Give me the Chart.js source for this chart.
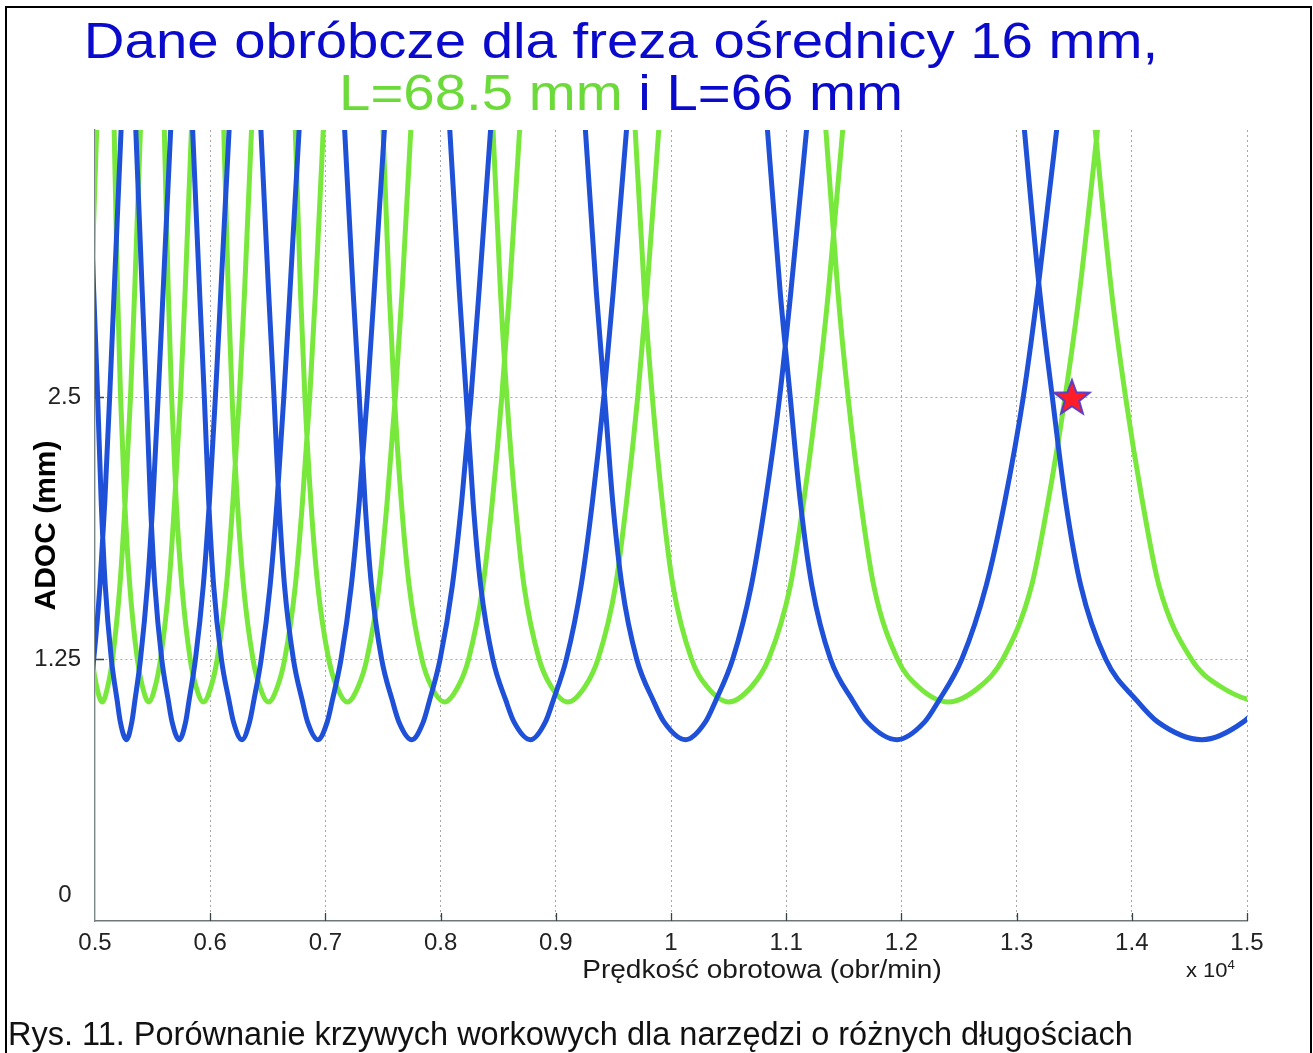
<!DOCTYPE html>
<html>
<head>
<meta charset="utf-8">
<script src="https://cdn.jsdelivr.net/npm/chart.js@4/dist/chart.umd.min.js"></script>
<style>
  html, body { margin: 0; padding: 0; background: #fff; }
  #wrap { position: relative; width: 1313px; height: 1053px; overflow: hidden; background: #fff;
          font-family: "Liberation Sans", Arial, sans-serif; }
  #c { position: absolute; left: 0; top: 0; }
  #frame { position: absolute; left: 5px; top: 6px; width: 1303px; height: 1100px;
           border-left: 2px solid #000; border-top: 2px solid #000; border-right: 2px solid #000; }
  #title { position: absolute; left: 621px; top: 14.7px; transform: translateX(-50%) scaleX(1.127);
           font-size: 50px; line-height: 52px; color: #0a0acc; text-align: center; white-space: nowrap; }
  #title .g { color: #6cdb3a; }
  #xt { position: absolute; left: 762px; top: 954px; transform: translateX(-50%) scaleX(1.12);
        font-size: 25px; line-height: 30px; color: #1a1a1a; white-space: nowrap; }
  #xp { position: absolute; left: 1186px; top: 958px; transform-origin: left center; transform: scaleX(1.1);
        font-size: 20px; line-height: 24px; color: #1a1a1a; white-space: nowrap; }
  #xp span { position: relative; top: -8px; font-size: 12px; }
  #cap { position: absolute; left: 8px; top: 1016px; font-size: 32.5px; line-height: 36px; color: #111; white-space: nowrap; }
</style>
</head>
<body>
<div id="wrap">
  <canvas id="c" width="1313" height="1053"></canvas>
  <div id="frame"></div>
  <div id="title"><div>Dane obróbcze dla freza ośrednicy 16 mm,</div><div><span class="g">L=68.5 mm</span> i L=66 mm</div></div>
  <div id="xt">Prędkość obrotowa (obr/min)</div>
  <div id="xp">x 10<span>4</span></div>
  <div id="cap">Rys. 11. Porównanie krzywych workowych dla narzędzi o różnych długościach</div>
</div>
<script>
// ---------- tick values / labels ----------
const xTickValues = [0.5, 0.6, 0.7, 0.8, 0.9, 1.0, 1.1, 1.2, 1.3, 1.4, 1.5];
const xTickLabels = ['0.5', '0.6', '0.7', '0.8', '0.9', '1', '1.1', '1.2', '1.3', '1.4', '1.5'];
const yTickValues = [0, 1.25, 2.5];
const yTickLabels = ['0', '1.25', '2.5'];

// ---------- L = 66 mm (blue) : ADOC level of each lobe point ----------
const blueAdoc = [4.0, 3.0, 2.5, 2.0, 1.6, 1.25, 1.05, 0.95, 0.865, 0.95, 1.05, 1.25, 1.6, 2.0, 2.5, 3.0, 4.0];
// spindle speed (x 10^4 obr/min) of each lobe at those levels
const blueLobe1  = [null, null, null, null, null, null, 0.4814, 0.4838, 0.4883, 0.4924, 0.4946, 0.4989, 0.5043, 0.5085, 0.5127, 0.5166, 0.5244];
const blueLobe2  = [0.4923, 0.4989, 0.5023, 0.5054, 0.5089, 0.5142, 0.5193, 0.5220, 0.5273, 0.5320, 0.5346, 0.5395, 0.5455, 0.5502, 0.5548, 0.5591, 0.5676];
const blueLobe3  = [0.5338, 0.5410, 0.5447, 0.5481, 0.5520, 0.5579, 0.5637, 0.5669, 0.5731, 0.5787, 0.5816, 0.5872, 0.5940, 0.5993, 0.6045, 0.6092, 0.6185];
const blueLobe4  = [0.5830, 0.5908, 0.5949, 0.5987, 0.6030, 0.6097, 0.6164, 0.6202, 0.6276, 0.6342, 0.6378, 0.6443, 0.6520, 0.6580, 0.6639, 0.6692, 0.6795];
const blueLobe5  = [0.6421, 0.6507, 0.6554, 0.6597, 0.6645, 0.6722, 0.6800, 0.6845, 0.6935, 0.7016, 0.7059, 0.7136, 0.7225, 0.7294, 0.7363, 0.7423, 0.7538];
const blueLobe6  = [0.7146, 0.7241, 0.7294, 0.7344, 0.7400, 0.7488, 0.7582, 0.7638, 0.7749, 0.7850, 0.7903, 0.7996, 0.8102, 0.8183, 0.8264, 0.8333, 0.8463];
const blueLobe7  = [0.8056, 0.8163, 0.8223, 0.8282, 0.8348, 0.8453, 0.8568, 0.8637, 0.8780, 0.8910, 0.8976, 0.9092, 0.9220, 0.9318, 0.9417, 0.9498, 0.9647];
const blueLobe8  = [0.9230, 0.9352, 0.9424, 0.9494, 0.9574, 0.9702, 0.9848, 0.9939, 1.0127, 1.0299, 1.0387, 1.0536, 1.0697, 1.0819, 1.0943, 1.1040, 1.1216];
const blueLobe9  = [1.0806, 1.0948, 1.1035, 1.1123, 1.1223, 1.1384, 1.1579, 1.1702, 1.1962, 1.2202, 1.2323, 1.2525, 1.2736, 1.2897, 1.3058, 1.3182, 1.3395];
const blueLobe10 = [1.3030, 1.3201, 1.3310, 1.3426, 1.3557, 1.3773, 1.4046, 1.4224, 1.4609, 1.4968, 1.5148, 1.5440, 1.5736, null, null, null, null];

// ---------- L = 68.5 mm (green) ----------
const greenAdoc = [4.0, 3.0, 2.5, 2.0, 1.6, 1.25, 1.12, 1.045, 1.12, 1.25, 1.6, 2.0, 2.5, 3.0, 4.0];
const greenLobe0  = [null, null, null, null, null, null, null, null, null, null, null, 0.4893, 0.4935, 0.4968, 0.5028];
const greenLobe1  = [null, null, null, null, 0.4917, 0.4975, 0.5014, 0.5062, 0.5111, 0.5152, 0.5216, 0.5262, 0.5308, 0.5344, 0.5409];
const greenLobe2  = [0.5158, 0.5196, 0.5222, 0.5258, 0.5302, 0.5367, 0.5411, 0.5466, 0.5523, 0.5569, 0.5641, 0.5691, 0.5742, 0.5782, 0.5853];
const greenLobe3  = [0.5592, 0.5636, 0.5665, 0.5705, 0.5754, 0.5826, 0.5876, 0.5941, 0.6008, 0.6061, 0.6141, 0.6197, 0.6253, 0.6298, 0.6376];
const greenLobe4  = [0.6107, 0.6157, 0.6190, 0.6236, 0.6289, 0.6371, 0.6429, 0.6506, 0.6585, 0.6647, 0.6739, 0.6801, 0.6864, 0.6914, 0.7001];
const greenLobe5  = [0.6726, 0.6784, 0.6822, 0.6874, 0.6934, 0.7028, 0.7097, 0.7190, 0.7286, 0.7360, 0.7466, 0.7536, 0.7607, 0.7665, 0.7763];
const greenLobe6  = [0.7485, 0.7554, 0.7599, 0.7659, 0.7727, 0.7837, 0.7919, 0.8035, 0.8153, 0.8243, 0.8368, 0.8449, 0.8531, 0.8598, 0.8711];
const greenLobe7  = [0.8437, 0.8520, 0.8575, 0.8646, 0.8724, 0.8855, 0.8958, 0.9104, 0.9255, 0.9367, 0.9519, 0.9614, 0.9711, 0.9790, 0.9923];
const greenLobe8  = [0.9667, 0.9769, 0.9838, 0.9924, 1.0017, 1.0178, 1.0310, 1.0502, 1.0702, 1.0847, 1.1036, 1.1151, 1.1268, 1.1366, 1.1526];
const greenLobe9  = [1.1315, 1.1449, 1.1537, 1.1647, 1.1760, 1.1966, 1.2142, 1.2407, 1.2684, 1.2881, 1.3130, 1.3273, 1.3421, 1.3546, 1.3746];
const greenLobe10 = [1.3642, 1.3825, 1.3946, 1.4093, 1.4236, 1.4516, 1.4766, 1.5156, 1.5567, null, null, null, null, null, null];

// ---------- marked working point ----------
const starSpeed = [1.348];
const starAdoc = [2.5];

// ---------- build library data ----------
function buildLobes(lobes, levels) {
  const pts = [];
  lobes.forEach(speeds => {
    let last = null;
    speeds.forEach((s, i) => { if (s !== null) { pts.push({ x: s, y: levels[i] }); last = s; } });
    pts.push({ x: last, y: null });
  });
  return pts;
}
const blueData = buildLobes([blueLobe1, blueLobe2, blueLobe3, blueLobe4, blueLobe5, blueLobe6, blueLobe7, blueLobe8, blueLobe9, blueLobe10], blueAdoc);
const greenData = buildLobes([greenLobe0, greenLobe1, greenLobe2, greenLobe3, greenLobe4, greenLobe5, greenLobe6, greenLobe7, greenLobe8, greenLobe9, greenLobe10], greenAdoc);
const starData = starSpeed.map((s, i) => ({ x: s, y: starAdoc[i] }));

// filled five-pointed star marker
function makeStar() {
  const cv = document.createElement('canvas');
  cv.width = 42; cv.height = 42;
  const c = cv.getContext('2d');
  const R = 18.5, r = 7.6, cx = 21, cy = 22.5;
  c.beginPath();
  for (let i = 0; i < 10; i++) {
    const ang = -Math.PI / 2 + i * Math.PI / 5;
    const rad = i % 2 === 0 ? R : r;
    const px = cx + rad * Math.cos(ang), py = cy + rad * Math.sin(ang);
    if (i === 0) c.moveTo(px, py); else c.lineTo(px, py);
  }
  c.closePath();
  c.fillStyle = '#ff1e28';
  c.fill();
  c.lineWidth = 2;
  c.strokeStyle = '#5a3cc8';
  c.stroke();
  return cv;
}

const FONT = '"Liberation Sans", Arial, sans-serif';

const axisExtras = {
  id: 'axisExtras',
  beforeDatasetsDraw(chart) {
    const { ctx, chartArea: a, scales: { x, y } } = chart;
    ctx.save();
    ctx.strokeStyle = '#3a4444';
    ctx.lineWidth = 1.3;
    ctx.beginPath();
    x.ticks.forEach(t => {
      if (t.value > x.min) { const px = Math.round(x.getPixelForValue(t.value)) + 0.5; ctx.moveTo(px, a.bottom); ctx.lineTo(px, a.bottom - 8); }
    });
    y.ticks.forEach(t => {
      if (t.value > y.min) { const py = Math.round(y.getPixelForValue(t.value)) + 0.5; ctx.moveTo(a.left, py); ctx.lineTo(a.left + 9, py); }
    });
    ctx.stroke();
    ctx.restore();
  },
  afterDraw(chart) {
    const { ctx, scales: { y } } = chart;
    ctx.save();
    ctx.font = '24px ' + FONT;
    ctx.fillStyle = '#222';
    ctx.textAlign = 'center';
    ctx.textBaseline = 'middle';
    ctx.fillText(yTickLabels[0], 65, y.getPixelForValue(yTickValues[0]) - 26);
    ctx.restore();
  }
};

const gridColor = (ctx) => (ctx.tick && (ctx.tick.value === 0 || ctx.tick.value === 0.5)) ? 'rgba(0,0,0,0)' : '#a8a8a8';

new Chart(document.getElementById('c'), {
  type: 'line',
  data: {
    datasets: [
      { label: 'punkt', data: starData, showLine: false, pointStyle: makeStar(), pointRadius: 18, borderWidth: 0 },
      { label: 'L=66 mm', data: blueData, borderColor: '#1e50d8', borderWidth: 5, pointRadius: 0,
        cubicInterpolationMode: 'monotone', spanGaps: false, fill: false, borderJoinStyle: 'round', borderCapStyle: 'round' },
      { label: 'L=68.5 mm', data: greenData, borderColor: '#78e83c', borderWidth: 5, pointRadius: 0,
        cubicInterpolationMode: 'monotone', spanGaps: false, fill: false, borderJoinStyle: 'round', borderCapStyle: 'round' }
    ]
  },
  options: {
    responsive: false,
    animation: false,
    layout: { padding: { left: 0, right: 66, top: 130, bottom: 0 } },
    plugins: { legend: { display: false }, tooltip: { enabled: false }, title: { display: false } },
    scales: {
      x: {
        type: 'linear', min: 0.5, max: 1.5,
        afterFit: s => { s.height = 132; },
        afterBuildTicks: s => { s.ticks = xTickValues.map(v => ({ value: v })); },
        ticks: {
          callback: (v) => xTickLabels[xTickValues.findIndex(t => Math.abs(t - v) < 1e-9)],
          font: { family: FONT, size: 24 }, color: '#222', padding: 8, maxRotation: 0, autoSkip: false
        },
        grid: { color: gridColor, lineWidth: 1, drawTicks: false },
        border: { display: true, color: '#6e7878', width: 1.6, dash: [2, 3] }
      },
      y: {
        type: 'linear', min: 0, max: 3.774,
        afterFit: s => { s.width = 95; },
        afterBuildTicks: s => { s.ticks = yTickValues.map(v => ({ value: v })); },
        ticks: {
          callback: (v) => { const i = yTickValues.findIndex(t => Math.abs(t - v) < 1e-9); return i === 0 ? '' : yTickLabels[i]; },
          font: { family: FONT, size: 24 }, color: '#222', padding: 14, autoSkip: false
        },
        grid: { color: gridColor, lineWidth: 1, drawTicks: false },
        border: { display: true, color: '#7a8686', width: 1.4, dash: [2, 3] },
        title: { display: true, text: 'ADOC (mm)', color: '#000',
                 font: { family: FONT, size: 30, weight: 'bold' }, padding: { top: 29, bottom: 0 } }
      }
    }
  },
  plugins: [axisExtras]
});
</script>
</body>
</html>
